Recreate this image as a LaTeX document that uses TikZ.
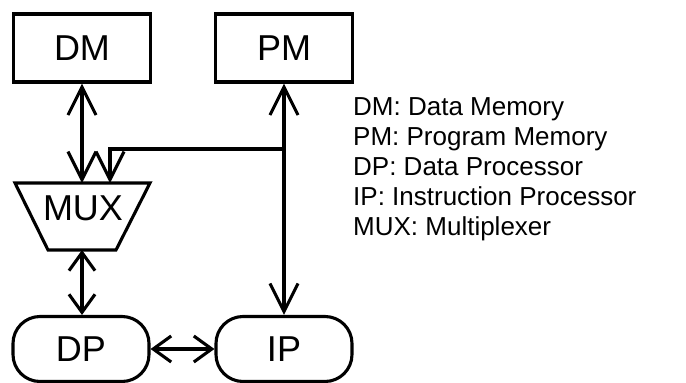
\documentclass[tikz,border=0pt]{standalone}
\usepackage{fontspec}
\setmainfont{Liberation Sans}
\usetikzlibrary{arrows.meta}

\tikzset{
  wire/.style={line width=3.1pt, >={Straight Barb[length=28pt,width=28pt]}},
  shortwire/.style={line width=3.1pt, >={Straight Barb[length=18pt,width=26pt]}},
  membox/.style={draw, line width=3.1pt, rectangle, inner sep=0pt,
    minimum width=137pt, minimum height=68pt,
    font=\fontsize{36}{40}\selectfont},
  procbox/.style={draw, line width=3.1pt, rectangle, rounded corners=27pt,
    inner sep=0pt, minimum width=136pt, minimum height=65pt,
    font=\fontsize{36}{40}\selectfont},
  legend/.style={anchor=base west, inner sep=0pt,
    font=\fontsize{26}{30}\selectfont}
}

\begin{document}
\begin{tikzpicture}[x=1pt,y=-1pt]
  \useasboundingbox (0,0) rectangle (686,383);

  % memories
  \node[membox] (dm) at (82,48) {DM};
  \node[membox] (pm) at (284,48) {PM};

  % multiplexer (trapezoid, wide side up)
  \draw[line width=3.1pt, line join=miter]
    (15,183) -- (150,183) -- (116,250) -- (48,250) -- cycle;
  \node[inner sep=0pt, font=\fontsize{36}{40}\selectfont] (mux) at (83,208) {MUX};
  \coordinate (muxa) at (82,183);
  \coordinate (muxb) at (110,183);
  \coordinate (muxc) at (82,250);

  % processors
  \node[procbox] (dp) at (81,349) {DP};
  \node[procbox] (ip) at (284,349) {IP};

  % connections
  \coordinate (tap) at (284,149);
  \draw[wire,<->] (dm.south) -- (muxa);
  \draw[wire,<->] (pm.south) -- (ip.north);
  \draw[wire,->] (tap) -- (muxb |- tap) -- (muxb);
  \draw[shortwire,<->] (muxc) -- (muxc |- dp.north);
  \draw[shortwire,<->] (dp.east) -- (ip.west);

  % legend
  \node[legend] (l1) at (353,115) {DM: Data Memory};
  \node[legend] (l2) at (353,145) {PM: Program Memory};
  \node[legend] (l3) at (353,175) {DP: Data Processor};
  \node[legend] (l4) at (353,205) {IP: Instruction Processor};
  \node[legend] (l5) at (353,235) {MUX: Multiplexer};
\end{tikzpicture}
\end{document}
